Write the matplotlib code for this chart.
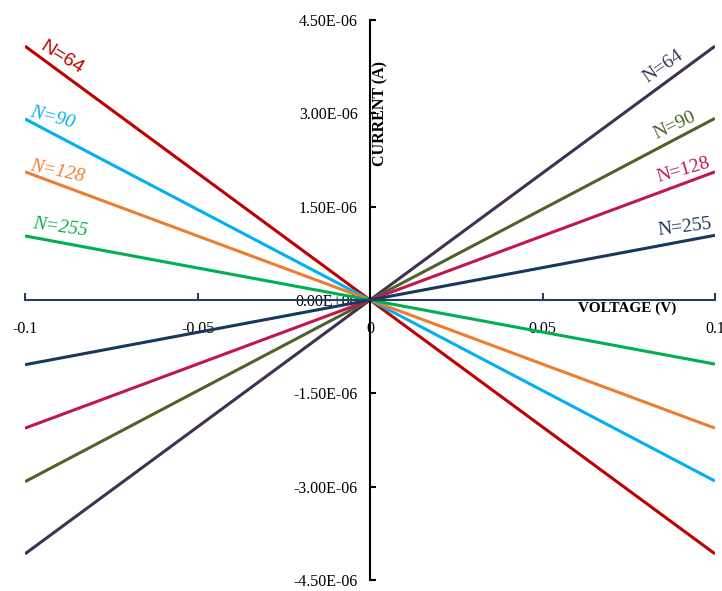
import numpy as np
import matplotlib.pyplot as plt

# voltage sweep end points (V)
voltage = [-0.1, 0.0, 0.1]

# current at V = -0.1 V for the falling set, at V = +0.1 V for the rising set (A)
labels = ['N=64', 'N=90', 'N=128', 'N=255']
falling_end = [4.08e-6, 2.91e-6, 2.06e-6, 1.03e-6]
rising_end = [4.08e-6, 2.92e-6, 2.06e-6, 1.04e-6]
falling_colors = ['#C00000', '#00B0F0', '#ED7D31', '#00B050']
rising_colors = ['#403152', '#4F6228', '#C0174E', '#17375E']

xticks = [-0.1, -0.05, 0, 0.05, 0.1]
xtick_labels = ['-0.1', '-0.05', '0', '0.05', '0.1']
yticks = [-4.5e-6, -3e-6, -1.5e-6, 0, 1.5e-6, 3e-6, 4.5e-6]

plt.rcParams['font.family'] = ['Liberation Serif', 'DejaVu Serif']

fig = plt.figure(figsize=(7.22, 5.91), dpi=100)
ax = fig.add_axes([25/722, 11/591, 690/722, 560/591])

v = np.array(voltage)
for end, c in zip(falling_end, falling_colors):
    ax.plot(v, -end / 0.1 * v, color=c, lw=2.2, solid_capstyle='butt')
for end, c in zip(rising_end, rising_colors):
    ax.plot(v, end / 0.1 * v, color=c, lw=2.2, solid_capstyle='butt')

ax.set_xlim(-0.1, 0.1)
ax.set_ylim(-4.5e-6, 4.5e-6)

for s in ['top', 'right']:
    ax.spines[s].set_visible(False)
ax.spines['left'].set_position(('data', 0))
ax.spines['bottom'].set_position(('data', 0))
ax.spines['left'].set_linewidth(1.5)
ax.spines['bottom'].set_linewidth(1.5)
ax.spines['bottom'].set_color('#243F60')

ax.set_xticks(xticks)
ax.set_xticklabels(xtick_labels)
ax.set_yticks(yticks)
ax.set_yticklabels(['%.2E' % t for t in yticks])
ax.tick_params(axis='x', direction='in', length=5, width=1.5, color='#243F60',
               pad=15, labelsize=11.5)
ax.tick_params(axis='y', direction='in', length=4, width=1.5, pad=9, labelsize=11.5)

ax.text(0.0029, 3.0e-6, 'CURRENT (A)', rotation=90, fontweight='bold',
        fontsize=11.5, ha='center', va='center')
ax.text(0.0745, -1.3e-7, 'VOLTAGE (V)', fontweight='bold', fontsize=11,
        ha='center', va='center')

# series labels
left_pos = [(-0.0893, 3.9e-6, -32), (-0.0922, 2.94e-6, -15),
            (-0.0907, 2.06e-6, -12), (-0.0899, 1.17e-6, -8)]
right_pos = [(0.0849, 3.76e-6, 35), (0.0884, 2.81e-6, 25),
             (0.0907, 2.09e-6, 16), (0.0913, 1.17e-6, 7)]
left_fonts = [dict(family=['Liberation Sans', 'DejaVu Sans']),
              dict(style='italic'), dict(style='italic'), dict(style='italic')]
for lab, c, (x, y, r), f in zip(labels, falling_colors, left_pos, left_fonts):
    ax.text(x, y, lab, color=c, rotation=r, fontsize=14, ha='center', va='center',
            rotation_mode='anchor', **f)
for lab, c, (x, y, r) in zip(labels, rising_colors, right_pos):
    ax.text(x, y, lab, color=c, rotation=r, fontsize=14, ha='center', va='center',
            rotation_mode='anchor')

fig.savefig('out.png', dpi=100)
